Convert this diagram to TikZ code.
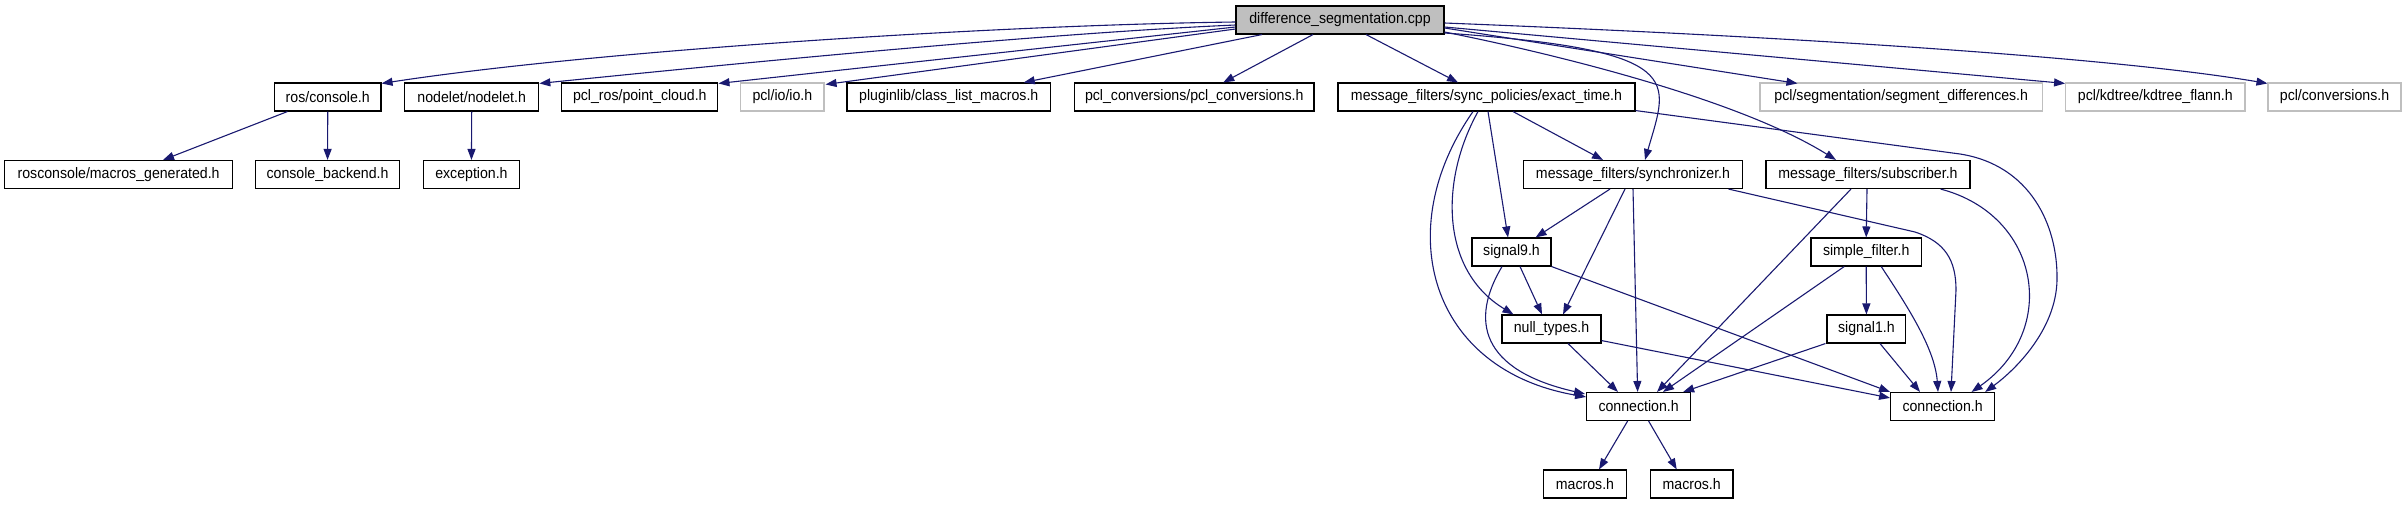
\documentclass[tikz,border=0pt]{standalone}
\usepackage{fontspec}
\setmainfont{Liberation Sans}[FakeStretch=0.93]
\usetikzlibrary{arrows.meta,calc}
\definecolor{edgeblue}{HTML}{191970}
\definecolor{extgray}{HTML}{BFBFBF}
\tikzset{
  filebox/.style={draw=black, line width=1.1pt, fill=white, minimum height=28pt, inner sep=0pt,
    font=\fontsize{15.2}{17}\selectfont},
  extbox/.style={filebox, draw=extgray},
  mainbox/.style={filebox, fill=extgray},
  dep/.style={draw=edgeblue, line width=1.1pt, -{Triangle[length=11pt,width=8pt]}, edgeblue},
}
\begin{document}
\begin{tikzpicture}[x=1pt,y=-1pt]
\useasboundingbox (0,0) rectangle (2405,504);
% row 1
\node[mainbox, minimum width=208pt] (main) at (1340,20) {difference\_segmentation.cpp};
% row 2
\node[filebox, minimum width=106.5pt] (ros) at (327.75,97) {ros/console.h};
\node[filebox, minimum width=134.2pt] (nodelet) at (471.7,97) {nodelet/nodelet.h};
\node[filebox, minimum width=156.2pt] (pclros) at (639.8,97) {pcl\_ros/point\_cloud.h};
\node[extbox, minimum width=83.2pt] (io) at (782.4,97) {pcl/io/io.h};
\node[filebox, minimum width=203.5pt] (plugin) at (948.75,97) {pluginlib/class\_list\_macros.h};
\node[filebox, minimum width=239.5pt] (pclconv) at (1194.25,97) {pcl\_conversions/pcl\_conversions.h};
\node[filebox, minimum width=297pt] (exact) at (1486.5,97) {message\_filters/sync\_policies/exact\_time.h};
\node[extbox, minimum width=282.5pt] (segdiff) at (1901.25,97) {pcl/segmentation/segment\_differences.h};
\node[extbox, minimum width=179.4pt] (kdtree) at (2155.3,97) {pcl/kdtree/kdtree\_flann.h};
\node[extbox, minimum width=133pt] (conv) at (2334.5,97) {pcl/conversions.h};
% row 3
\node[filebox, minimum width=228pt] (macrogen) at (118.65,174.5) {rosconsole/macros\_generated.h};
\node[filebox, minimum width=144pt] (backend) at (327.55,174.5) {console\_backend.h};
\node[filebox, minimum width=96pt] (exception) at (471.45,174.5) {exception.h};
\node[filebox, minimum width=218.7pt] (sync) at (1633,174.5) {message\_filters/synchronizer.h};
\node[filebox, minimum width=204pt] (sub) at (1868,174.5) {message\_filters/subscriber.h};
% row 4
\node[filebox, minimum width=79pt] (signal9) at (1511.5,252) {signal9.h};
\node[filebox, minimum width=110.4pt] (simple) at (1866.2,252) {simple\_filter.h};
% row 5
\node[filebox, minimum width=99pt] (null) at (1551.5,329) {null\_types.h};
\node[filebox, minimum width=78.8pt] (signal1) at (1866.4,329) {signal1.h};
% row 6
\node[filebox, minimum width=104pt] (connL) at (1638.6,406.5) {connection.h};
\node[filebox, minimum width=104pt] (connR) at (1942.6,406.5) {connection.h};
% row 7
\node[filebox, minimum width=82.25pt] (macL) at (1585,484) {macros.h};
\node[filebox, minimum width=82.6pt] (macR) at (1691.7,484) {macros.h};

% edges from main
\draw[dep] ($(main.west)+(0,2)$) .. controls (1000,25) and (600,50) .. ($(ros.north east)+(0,1)$);
\draw[dep] ($(main.west)+(0,5)$) .. controls (1050,33) and (750,62) .. ($(nodelet.north east)+(0,1)$);
\draw[dep] ($(main.west)+(0,7)$) -- ($(pclros.north east)+(0,1)$);
\draw[dep] ($(main.west)+(0,9)$) -- ($(io.north east)+(1,2)$);
\draw[dep] ($(main.south)+(-78,0)$) -- ($(plugin.north)+(75,0)$);
\draw[dep] ($(main.south)+(-27,0)$) -- ($(pclconv.north)+(29,0)$);
\draw[dep] ($(main.south)+(26,0)$) -- ($(exact.north)+(-28.5,0)$);
\draw[dep] ($(main.east)+(0,13)$) .. controls (1690,50) and (1668,80) .. ($(sync.north)+(12,0)$);
\draw[dep] ($(main.east)+(0,12)$) .. controls (1560,55) and (1740,100) .. ($(sub.north)+(-32,0)$);
\draw[dep] ($(main.east)+(0,8)$) -- ($(segdiff.north west)+(38,1)$);
\draw[dep] ($(main.east)+(0,7)$) -- ($(kdtree.north west)+(0,1)$);
\draw[dep] ($(main.east)+(0,3)$) .. controls (1750,35) and (2100,55) .. ($(conv.north west)+(0,1)$);

% left group
\draw[dep] ($(ros.south west)+(13.5,0)$) -- ($(macrogen.north)+(44.35,0)$);
\draw[dep] (ros.south) -- (backend.north);
\draw[dep] (nodelet.south) -- (exception.north);

% exact_time
\draw[dep] ($(exact.south)+(26.5,0)$) -- ($(sync.north)+(-30,0)$);
\draw[dep] ($(exact.south)+(1.5,0)$) -- ($(signal9.north)+(-3.5,0)$);
\draw[dep] ($(exact.south)+(-8.5,0)$) .. controls (1440,180) and (1440,270) .. ($(null.north west)+(12,0)$);
\draw[dep] ($(exact.south)+(-13.5,0)$) .. controls (1390,230) and (1430,370) .. ($(connL.north west)+(0,5)$);
\draw[dep] ($(exact.south east)+(0,-1)$) -- (1960,154) .. controls (2030,165) and (2058,225) .. (2057,280)
   .. controls (2056,330) and (2015,370) .. ($(connR.north east)+(-10,0)$);

% synchronizer
\draw[dep] ($(sync.south)+(-23,0)$) -- ($(signal9.north east)+(-16,0)$);
\draw[dep] ($(sync.south)+(-8,0)$) -- ($(null.north)+(11.5,0)$);
\draw[dep] (sync.south) -- ($(connL.north)+(-1,0)$);
\draw[dep] ($(sync.south east)+(-14.4,0)$) -- (1915,232) .. controls (1945,242) and (1956,260) .. (1956,290)
   -- ($(connR.north)+(8.4,0)$);

% subscriber
\draw[dep] ($(sub.south)+(-1,0)$) -- (simple.north);
\draw[dep] ($(sub.south)+(-17,0)$) -- ($(connL.north)+(18.4,0)$);
\draw[dep] ($(sub.south east)+(-30,0)$) .. controls (2040,215) and (2060,330) .. ($(connR.north east)+(-23.6,0)$);

% signal9
\draw[dep] ($(signal9.south)+(8.5,0)$) -- ($(null.north)+(-9.5,0)$);
\draw[dep] ($(signal9.south)+(-9.5,0)$) .. controls (1470,320) and (1480,370) .. ($(connL.north west)+(-1,2)$);
\draw[dep] (signal9.south east) -- (connR.north west);

% simple_filter
\draw[dep] (simple.south) -- (signal1.north);
\draw[dep] ($(simple.south)+(-22,0)$) -- ($(connL.north)+(24.4,0)$);
\draw[dep] ($(simple.south)+(15,0)$) .. controls (1910,310) and (1935,350) .. ($(connR.north)+(-4.6,0)$);

% null_types
\draw[dep] ($(null.south)+(16.5,0)$) -- ($(connL.north)+(-20.6,0)$);
\draw[dep] ($(null.south east)+(0,-3)$) -- ($(connR.north west)+(0,6)$);

% signal1
\draw[dep] ($(signal1.south west)+(-1,0)$) -- ($(connL.north east)+(-8,0)$);
\draw[dep] ($(signal1.south)+(13.6,0)$) -- ($(connR.north)+(-22.6,0)$);

% connection
\draw[dep] ($(connL.south)+(-11,0)$) -- ($(macL.north)+(14,0)$);
\draw[dep] ($(connL.south)+(10,0)$) -- ($(macR.north)+(-15,0)$);
\end{tikzpicture}
\end{document}
